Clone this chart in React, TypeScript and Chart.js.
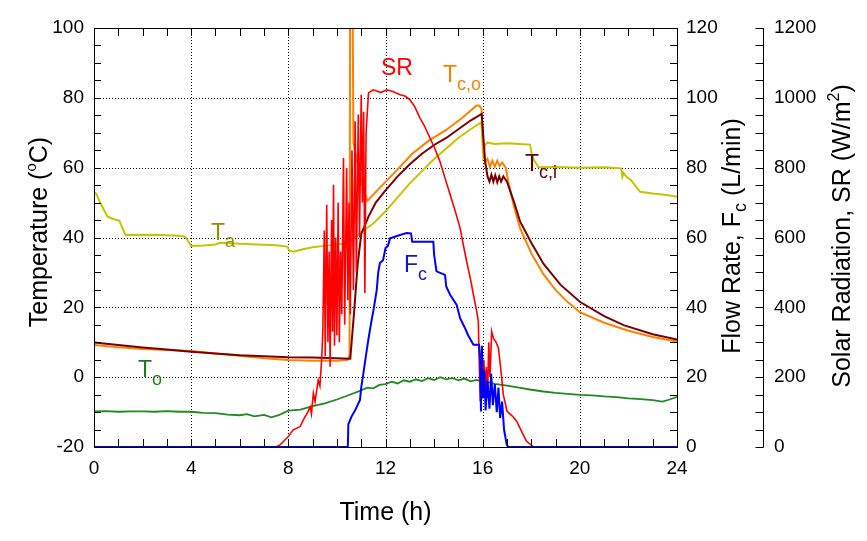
import React, { useEffect, useRef } from "react";
import { Chart, registerables } from "chart.js";

Chart.register(...registerables);

const FONT = "'Liberation Sans', Arial, Helvetica, sans-serif";

// ---- tick labels ----
const hourTicks = [0, 4, 8, 12, 16, 20, 24];
const tempTicks = [-20, 0, 20, 40, 60, 80, 100];
const flowTicks = [0, 20, 40, 60, 80, 100, 120];
const srTicks = [0, 200, 400, 600, 800, 1000, 1200];

// ---- Ta (ambient temperature, °C) ----
const taHours = [0, 0.1, 0.25, 0.4, 0.55, 0.8, 1.05, 1.15, 1.3, 2.0, 2.8, 3.5, 3.75, 3.85, 4.0, 4.5, 5.0, 5.2, 6.0, 7.0, 7.5, 7.95, 8.05, 8.2, 8.4, 8.65, 9.0, 9.5, 10.0, 10.3, 10.6, 11.0, 11.5, 12.0, 12.5, 13.0, 13.5, 14.0, 14.5, 15.0, 15.5, 15.95, 16.02, 16.1, 16.2, 16.5, 17.0, 17.5, 17.95, 18.02, 18.1, 18.3, 19.0, 20.0, 21.0, 21.7, 21.75, 21.8, 21.9, 22.1, 22.48, 23.0, 23.58, 24];
const taValues = [53, 52.5, 50, 48, 46, 45.3, 44.8, 43, 40.7, 40.8, 40.7, 40.5, 40.2, 39.2, 37.6, 37.7, 38.0, 38.5, 38.2, 37.9, 37.8, 37.4, 36.2, 35.9, 36.3, 36.7, 37.2, 37.6, 38.0, 38.3, 39.2, 41.5, 44.0, 47.5, 51.5, 55.5, 59.0, 62.5, 65.5, 68.5, 71.0, 73.0, 63.7, 66.5, 67.2, 66.8, 67.0, 66.8, 66.6, 64, 62.3, 60.1, 60.2, 60.0, 60.1, 59.8, 57.4, 58.5, 57.5, 56.5, 53.1, 52.6, 52.2, 51.7];

// ---- Tc,o (collector outlet, °C) ----
const tcoHours = [0, 1, 2, 3, 4, 5, 6, 7, 8, 9, 10, 10.45, 10.52, 10.55, 10.62, 10.68, 11.0, 11.25, 11.8, 12.5, 13.1, 13.8, 14.5, 15.2, 15.75, 15.85, 15.95, 16.03, 16.1, 16.2, 16.3, 16.4, 16.5, 16.6, 16.7, 16.8, 16.95, 17.05, 17.3, 17.54, 18.0, 18.5, 19.0, 19.5, 20, 21, 22, 23, 24];
const tcoValues = [9.2, 8.6, 8.1, 7.8, 7.5, 6.8, 6.1, 5.4, 4.9, 4.7, 4.7, 5.0, 6.5, 140, 140, 67, 56, 50.5, 54.5, 59.5, 64, 67.8, 70.8, 74.5, 77.8, 77.8, 77.0, 65.6, 61.5, 62.5, 60.2, 62, 60.3, 62, 60.5, 61.5, 60, 56.2, 48.5, 42.7, 35.5, 29.5, 25, 21.5, 18.6, 15.6, 13.3, 11.5, 10.2];

// ---- Tc,i (collector inlet, °C) ----
const tciHours = [0, 1, 2, 3, 4, 5, 6, 7, 8, 9, 10, 10.55, 10.7, 10.85, 11.0, 11.3, 11.6, 12.0, 12.5, 13.0, 13.5, 14.0, 14.5, 15.0, 15.5, 15.96, 16.1, 16.2, 16.28, 16.36, 16.44, 16.52, 16.6, 16.68, 16.76, 16.85, 17.0, 17.3, 17.54, 18.0, 18.2, 18.5, 19.2, 20, 21, 21.8, 23, 24];
const tciValues = [9.9, 9.2, 8.5, 7.9, 7.3, 6.8, 6.3, 6.0, 5.7, 5.6, 5.4, 5.3, 18, 32, 41, 46, 50, 53.5, 57.5, 61, 64, 66.5, 68.5, 71, 73.5, 75.4, 61.8, 57.5, 56, 58, 56, 57.8, 55.8, 57.5, 56, 57.5, 56, 50, 44.6, 38.5, 36.1, 32.5, 26.5, 21.6, 17.5, 14.9, 12.3, 10.8];

// ---- To (outdoor, °C) ----
const toHours = [0, 0.5, 1, 1.5, 2, 2.5, 3, 3.5, 4, 4.5, 5, 5.5, 6, 6.3, 6.6, 7.0, 7.3, 7.6, 8.0, 8.5, 9.0, 9.5, 10.0, 10.5, 11.0, 11.25, 11.5, 11.75, 12.0, 12.25, 12.5, 12.75, 13.0, 13.25, 13.5, 13.75, 14.0, 14.25, 14.5, 14.75, 15.0, 15.25, 15.5, 15.75, 16.0, 16.25, 16.5, 17.0, 17.5, 18.0, 18.5, 19.0, 19.5, 20.0, 20.5, 21.0, 21.5, 22.0, 22.5, 23.0, 23.4, 23.7, 24];
const toValues = [-9.8, -9.7, -9.9, -9.8, -9.8, -9.9, -9.7, -9.9, -9.9, -10.2, -10.3, -10.7, -10.9, -10.6, -11.2, -10.8, -11.5, -10.9, -9.6, -9.3, -8.3, -7.5, -6.4, -5.1, -3.8, -3.0, -3.2, -2.2, -2.0, -1.3, -1.8, -0.9, -1.3, -0.6, -1.1, -0.3, -0.8, 0.0, -0.6, -0.2, -0.9, -0.4, -1.2, -0.8, -1.3, -1.5, -1.9, -2.4, -3.0, -3.6, -4.1, -4.5, -4.8, -5.1, -5.2, -5.5, -5.7, -6.1, -6.3, -6.6, -7.0, -6.4, -5.6];

// ---- SR (solar radiation, W/m²) ----
const srHours = [7.48, 7.66, 8.0, 8.2, 8.48, 8.65, 8.8, 8.9, 8.95, 9.03, 9.1, 9.23, 9.3, 9.37, 9.42, 9.48, 9.52, 9.58, 9.63, 9.68, 9.72, 9.78, 9.82, 9.86, 9.9, 9.95, 10.0, 10.05, 10.1, 10.15, 10.2, 10.27, 10.32, 10.4, 10.45, 10.5, 10.55, 10.62, 10.68, 10.75, 10.8, 10.88, 10.93, 11.0, 11.05, 11.1, 11.15, 11.2, 11.3, 11.5, 11.8, 12.05, 12.3, 12.6, 12.8, 13.0, 13.2, 13.42, 13.6, 13.83, 14.0, 14.24, 14.45, 14.66, 14.85, 15.07, 15.2, 15.34, 15.5, 15.62, 15.75, 15.82, 15.86, 15.9, 15.95, 16.0, 16.05, 16.1, 16.15, 16.2, 16.25, 16.3, 16.37, 16.45, 16.55, 16.65, 16.75, 16.85, 17.0, 17.2, 17.4, 17.6, 17.8, 18.1];
const srValues = [0, 6, 30, 49, 58, 82, 100, 115, 95, 154, 130, 192, 175, 249, 330, 620, 260, 694, 300, 560, 230, 650, 330, 751, 290, 600, 320, 700, 300, 560, 380, 828, 350, 799, 420, 700, 380, 850, 450, 933, 500, 952, 600, 1009, 700, 960, 441, 900, 1014, 1023, 1015, 1023, 1018, 1009, 1005, 995, 975, 942, 920, 885, 860, 818, 770, 723, 680, 627, 580, 532, 480, 436, 390, 360, 240, 131, 280, 140, 250, 150, 230, 140, 300, 200, 331, 310, 300, 283, 220, 150, 103, 90, 74, 45, 17, 0];

// ---- Fc (flow rate, L/min) ----
const fcHours = [0, 10.45, 10.47, 10.6, 10.75, 10.95, 11.0, 11.09, 11.15, 11.23, 11.3, 11.43, 11.5, 11.64, 11.7, 11.77, 11.9, 12.0, 12.1, 12.19, 12.5, 12.87, 13.05, 13.1, 13.97, 14.0, 14.1, 14.45, 14.5, 14.66, 14.93, 15.07, 15.27, 15.4, 15.62, 15.85, 15.9, 15.93, 15.97, 16.02, 16.07, 16.12, 16.2, 16.28, 16.35, 16.42, 16.5, 16.58, 16.65, 16.72, 16.8, 16.88, 16.99, 17.05, 24];
const fcValues = [0, 0, 6.5, 8.7, 10.5, 13.5, 17, 21.1, 24, 27.8, 31, 36.4, 39, 45, 50, 52.7, 53.5, 57, 57.6, 59.8, 60.5, 61.3, 61.2, 58.8, 58.8, 55.1, 50.3, 49.3, 46, 43.6, 40.7, 36.9, 34.1, 32, 29.3, 29.3, 24.5, 10.2, 29, 14, 22, 10.5, 19, 11, 21, 12, 18, 10, 17, 8.3, 13, 5, 0.7, 0, 0];

const zip = (xs: number[], ys: number[]) =>
  xs.slice(0, Math.min(xs.length, ys.length)).map((x, i) => ({ x, y: ys[i] }));

type Part = { t: string; size: number; dy?: number };

function drawRich(
  ctx: CanvasRenderingContext2D,
  parts: Part[],
  x: number,
  y: number,
  color: string,
  align: "left" | "center",
  rotate = false
) {
  ctx.save();
  ctx.fillStyle = color;
  ctx.textBaseline = "alphabetic";
  ctx.textAlign = "left";
  let total = 0;
  const widths = parts.map((p) => {
    ctx.font = `${p.size}px ${FONT}`;
    const w = ctx.measureText(p.t).width;
    total += w;
    return w;
  });
  ctx.translate(x, y);
  if (rotate) ctx.rotate(-Math.PI / 2);
  let cx = align === "center" ? -total / 2 : 0;
  parts.forEach((p, i) => {
    ctx.font = `${p.size}px ${FONT}`;
    ctx.fillText(p.t, cx, p.dy || 0);
    cx += widths[i];
  });
  ctx.restore();
}

const decorPlugin = {
  id: "decor",
  beforeDatasetsDraw(chart: any) {
    const { ctx, chartArea, scales } = chart;
    const { left, right, top, bottom } = chartArea;
    ctx.save();
    ctx.strokeStyle = "#000";
    ctx.lineWidth = 1;
    ctx.setLineDash([1, 2]);
    hourTicks.forEach((h) => {
      if (h <= 0 || h >= 24) return;
      const x = Math.round(scales.x.getPixelForValue(h)) + 0.5;
      ctx.beginPath();
      ctx.moveTo(x, top);
      ctx.lineTo(x, bottom);
      ctx.stroke();
    });
    tempTicks.forEach((t) => {
      if (t <= -20 || t >= 100) return;
      const y = Math.round(scales.y.getPixelForValue(t)) + 0.5;
      ctx.beginPath();
      ctx.moveTo(left, y);
      ctx.lineTo(right, y);
      ctx.stroke();
    });
    ctx.restore();
  },
  afterDatasetsDraw(chart: any) {
    const { ctx, chartArea, scales } = chart;
    const { left, right, top, bottom } = chartArea;
    ctx.save();
    ctx.strokeStyle = "#000";
    ctx.lineWidth = 1;
    ctx.setLineDash([]);
    ctx.strokeRect(Math.round(left) + 0.5, Math.round(top) + 0.5, Math.round(right - left), Math.round(bottom - top));
    ctx.beginPath();
    for (let h = 1; h < 24; h++) {
      const x = Math.round(scales.x.getPixelForValue(h)) + 0.5;
      ctx.moveTo(x, bottom);
      ctx.lineTo(x, bottom - 8);
      ctx.moveTo(x, top);
      ctx.lineTo(x, top + 8);
    }
    for (let t = -15; t < 100; t += 5) {
      const y = Math.round(scales.y.getPixelForValue(t)) + 0.5;
      ctx.moveTo(left, y);
      ctx.lineTo(left + 7, y);
    }
    for (let f = 5; f < 120; f += 5) {
      const y = Math.round(scales.yF.getPixelForValue(f)) + 0.5;
      ctx.moveTo(right, y);
      ctx.lineTo(right - 7, y);
    }
    const sx = Math.round(scales.yS.left) + 0.5;
    ctx.moveTo(sx, top);
    ctx.lineTo(sx, bottom + 0.5);
    for (let s = 0; s <= 1200; s += 50) {
      const y = Math.round(scales.yS.getPixelForValue(s)) + 0.5;
      ctx.moveTo(sx, y);
      ctx.lineTo(sx - 8, y);
    }
    ctx.stroke();
    ctx.restore();

    drawRich(ctx, [{ t: "SR", size: 23 }], 381, 75, "#ff0000", "left");
    drawRich(ctx, [{ t: "T", size: 23 }, { t: "c,o", size: 18, dy: 8 }], 443, 82, "#ff8000", "left");
    drawRich(ctx, [{ t: "T", size: 23 }, { t: "c,i", size: 18, dy: 7 }], 525, 171, "#600000", "left");
    drawRich(ctx, [{ t: "T", size: 23 }, { t: "a", size: 18, dy: 7 }], 211, 240, "#8f8f00", "left");
    drawRich(ctx, [{ t: "F", size: 23 }, { t: "c", size: 18, dy: 8 }], 404, 272, "#1515c8", "left");
    drawRich(ctx, [{ t: "T", size: 23 }, { t: "o", size: 18, dy: 8 }], 138, 377, "#1f7a1f", "left");
  },
  afterDraw(chart: any) {
    const { ctx } = chart;
    drawRich(ctx, [{ t: "Temperature (", size: 25 }, { t: "o", size: 15, dy: -11 }, { t: "C)", size: 25 }], 47, 232, "#000", "center", true);
    drawRich(ctx, [{ t: "Flow Rate, F", size: 25 }, { t: "c", size: 18, dy: 6 }, { t: " (L/min)", size: 25 }], 740, 236, "#000", "center", true);
    drawRich(ctx, [{ t: "Solar Radiation, SR (W/m", size: 25 }, { t: "2", size: 16, dy: -11 }, { t: ")", size: 25 }], 850, 236, "#000", "center", true);
    drawRich(ctx, [{ t: "Time (h)", size: 25 }], 385.5, 520, "#000", "center");
  },
};

const tickFont = { family: FONT, size: 19 };
const plainLabel = (v: any) => String(v);

function makeAxis(min: number, max: number, ticks: number[], pos: string, width: number, pad: number) {
  return {
    type: "linear",
    position: pos,
    min,
    max,
    afterBuildTicks: (s: any) => {
      s.ticks = ticks.map((v) => ({ value: v }));
    },
    afterFit: (s: any) => {
      s.width = width;
    },
    ticks: { font: tickFont, color: "#000", padding: pad, autoSkip: false, callback: plainLabel },
    grid: { display: false, drawTicks: false },
    border: { display: false },
  };
}

export default function App() {
  const ref = useRef<HTMLCanvasElement>(null);
  useEffect(() => {
    document.body.style.margin = "0";
    const line = (label: string, xs: number[], ys: number[], color: string, axis: string, w: number) => ({
      label,
      data: zip(xs, ys),
      borderColor: color,
      backgroundColor: color,
      borderWidth: w,
      pointRadius: 0,
      tension: 0,
      yAxisID: axis,
      xAxisID: "x",
    });
    const chart = new Chart(ref.current as HTMLCanvasElement, {
      type: "line",
      data: {
        datasets: [
          line("Fc", fcHours, fcValues, "#0000ff", "yF", 2),
          line("SR", srHours, srValues, "#ff0000", "yS", 1.6),
          line("Tc,i", tciHours, tciValues, "#7a0000", "y", 2),
          line("Tc,o", tcoHours, tcoValues, "#ff8000", "y", 2),
          line("To", toHours, toValues, "#1f8a1f", "y", 1.8),
          line("Ta", taHours, taValues, "#c4c400", "y", 2),
        ] as any,
      },
      options: {
        animation: false,
        responsive: false,
        devicePixelRatio: 1,
        layout: { padding: { top: 28, left: 0, right: 0, bottom: 0 } },
        plugins: { legend: { display: false }, tooltip: { enabled: false } },
        scales: {
          x: {
            type: "linear",
            min: 0,
            max: 24,
            afterBuildTicks: (s: any) => {
              s.ticks = hourTicks.map((v) => ({ value: v }));
            },
            afterFit: (s: any) => {
              s.height = 94;
            },
            ticks: { font: tickFont, color: "#000", padding: 10, autoSkip: false, maxRotation: 0, callback: plainLabel },
            grid: { display: false, drawTicks: false },
            border: { display: false },
          },
          y: makeAxis(-20, 100, tempTicks, "left", 94, 10),
          yF: makeAxis(0, 120, flowTicks, "right", 86, 9),
          yS: makeAxis(0, 1200, srTicks, "right", 104, 11),
        } as any,
      },
      plugins: [decorPlugin],
    });
    return () => chart.destroy();
  }, []);
  return (
    <div style={{ width: 867, height: 541, position: "relative", background: "#fff" }}>
      <canvas ref={ref} width={867} height={541} style={{ display: "block", width: 867, height: 541 }} />
    </div>
  );
}
